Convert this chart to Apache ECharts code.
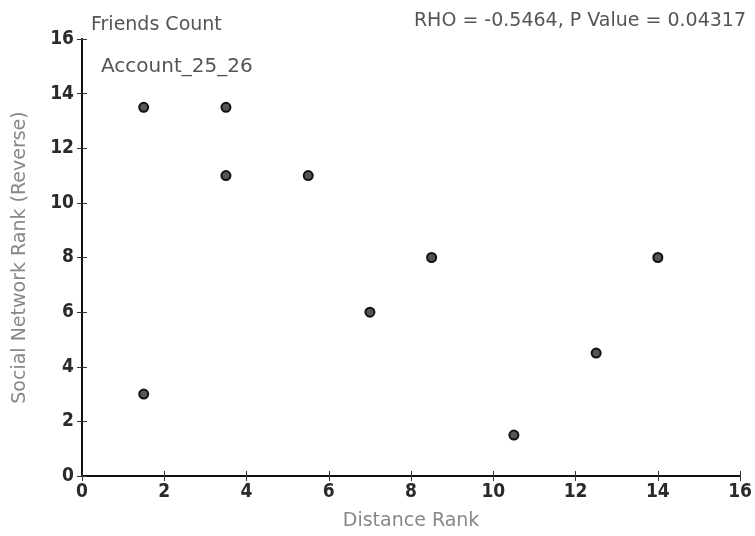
<!DOCTYPE html>
<html><head><meta charset="utf-8">
<script src="https://cdn.jsdelivr.net/npm/echarts@6/dist/echarts.min.js"></script>
<style>html,body{margin:0;padding:0;background:#fff}#c{width:755px;height:536px}</style>
</head><body><div id="c"></div>
<script>
const distanceRank = [1.5, 3.5, 3.5, 5.5, 1.5, 7, 8.5, 10.5, 12.5, 14];
const socialRank   = [13.5, 13.5, 11, 11, 3, 6, 8, 1.5, 4.5, 8];
const tickValues = [0, 2, 4, 6, 8, 10, 12, 14, 16];
const titleLeft = 'Friends Count';
const titleRight = 'RHO = -0.5464, P Value = 0.04317';
const accountLabel = 'Account_25_26';

const chart = echarts.init(document.getElementById('c'));
const tickFont = {fontFamily: 'DejaVu Sans Condensed', fontSize: 19, fontWeight: 'bold', color: '#2a2a2a'};
const nameFont = {fontFamily: 'DejaVu Sans', fontSize: 19, color: '#888'};
const txt = {fontFamily: 'DejaVu Sans', fontSize: 19, fontWeight: 'normal', color: '#555'};
const axisLine = {show: true, lineStyle: {color: '#111', width: 2}};
const tick = {show: true, inside: true, length: 5, lineStyle: {color: '#333'}};
chart.setOption({
  animation: false,
  grid: {left: 82, top: 39, right: 13, bottom: 58},
  title: [
    {text: titleLeft, left: 86, top: 11, textStyle: txt},
    {text: titleRight, right: 4, top: 7, textStyle: txt},
    {text: accountLabel, left: 96, top: 52, textStyle: Object.assign({}, txt, {fontSize: 20})}
  ],
  xAxis: [
    {type: 'value', min: 0, max: 16, interval: 2, name: 'Distance Rank', nameLocation: 'middle', nameGap: 36,
     nameTextStyle: nameFont, axisLabel: Object.assign({margin: 7, formatter: v => tickValues.includes(v) ? String(v) : ''}, tickFont), axisLine, axisTick: tick, splitLine: {show: false}},
    {type: 'value', position: 'top', min: 0, max: 16, interval: 2, axisLabel: {show: false}, axisLine, axisTick: tick, splitLine: {show: false}}
  ],
  yAxis: [
    {type: 'value', min: 0, max: 16, interval: 2, name: 'Social Network Rank (Reverse)', nameLocation: 'middle', nameGap: 52,
     nameTextStyle: nameFont, axisLabel: Object.assign({margin: 8, formatter: v => tickValues.includes(v) ? String(v) : ''}, tickFont), axisLine, axisTick: tick, splitLine: {show: false}},
    {type: 'value', position: 'right', min: 0, max: 16, interval: 2, axisLabel: {show: false}, axisLine, axisTick: tick, splitLine: {show: false}}
  ],
  series: [{
    type: 'scatter', symbol: 'circle', symbolSize: 9,
    data: distanceRank.map((x, i) => [x, socialRank[i]]),
    itemStyle: {color: '#555', borderColor: '#111', borderWidth: 2, opacity: 1}
  }]
});
</script></body></html>
